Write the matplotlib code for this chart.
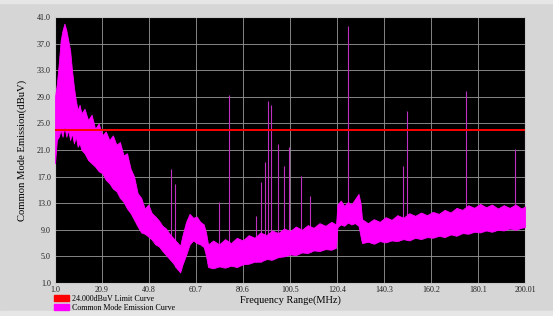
import numpy as np
import matplotlib
matplotlib.use("Agg")
import matplotlib.pyplot as plt
from matplotlib.patches import Patch, Rectangle

freq = [1, 1.8, 2.6, 3.4, 4.2, 5.0, 5.8, 6.6, 7.4, 8.2, 9.0, 9.8, 10.6, 11.4, 12.2,
        13.5, 15.0, 16.5, 18.0, 19.5, 21.0, 22.5, 24.0, 25.5, 27.0, 28.5, 30.0, 31.5,
        33.0, 34.5, 36.0, 37.5, 39.0, 40.5, 42.0, 43.5, 45.0, 46.5, 48.0, 49.5, 51.0,
        52.5, 54.0, 55.0, 56.5, 58.0, 59.5, 61.0, 62.5, 64.0, 65.0, 65.8,
        68, 70.5, 73, 75.5, 78, 80.5, 83, 85.5, 88, 90.5, 93, 95.5, 98, 100.5, 103,
        105.5, 108, 110.5, 113, 115.5, 118, 120.0, 120.6, 122, 123.5, 125, 126.5, 128,
        129.5, 130.4, 131, 133.5, 136, 138.5, 141, 143.5, 146, 148.5, 151, 153.5, 156,
        158.5, 161, 163.5, 166, 168.5, 171, 173.5, 176, 178.5, 181, 183.5, 186, 188.5,
        191, 193.5, 196, 198.5, 200]
upper = [29, 31, 34, 37.5, 39, 40, 39, 37.5, 36, 33, 30.5, 28.5, 27, 27.8, 26.5,
         27.2, 25.5, 26.3, 24.2, 25.0, 23.2, 23.8, 22.5, 23.2, 21.8, 22.2, 20.2, 20.5,
         18.2, 17.0, 14.5, 13.8, 12.2, 12.8, 11.5, 11.0, 10.4, 9.6, 9.2, 8.4, 7.8,
         7.2, 6.6, 8.2, 10.2, 11.4, 10.8, 11.0, 10.2, 9.8, 8.5, 6.8,
         7.4, 6.8, 7.6, 7.0, 7.8, 7.4, 8.2, 7.8, 8.6, 8.2, 8.9, 8.5, 9.2, 8.8, 9.5,
         9.0, 9.7, 9.3, 10.0, 9.6, 10.2, 9.8, 12.8, 13.4, 12.6, 13.2, 12.8, 13.6,
         14.4, 13.0, 10.6, 10.0, 10.6, 10.2, 10.9, 10.5, 11.2, 10.8, 11.5, 11.1, 11.6,
         11.2, 11.7, 11.4, 12.0, 11.6, 12.3, 12.0, 12.7, 12.3, 12.9, 12.4, 12.8, 12.2,
         12.7, 12.3, 12.8, 12.2, 12.5]
lower = [19, 22.5, 23, 24, 23, 24.5, 23, 24, 22.5, 23.5, 22, 23, 21.5, 22, 21,
         20.5, 19.5, 19, 18.5, 17.8, 17.5, 16.5, 16, 15.2, 14.8, 13.8, 13.2, 12.2,
         11.5, 10.5, 9.5, 8.6, 8.4, 8.0, 7.5, 6.8, 6.5, 5.8, 5.2, 4.6, 4.0,
         3.2, 2.6, 3.8, 5.2, 6.8, 7.4, 7.0, 6.8, 6.4, 5.0, 3.4,
         3.2, 3.5, 3.3, 3.6, 3.4, 3.8, 3.9, 4.2, 4.2, 4.6, 4.5, 4.9, 5.0, 5.3, 5.2,
         5.6, 5.5, 5.9, 5.8, 6.1, 6.0, 6.3, 9.4, 9.8, 9.6, 10.1, 9.8, 10.0,
         9.6, 8.0, 7.0, 7.2, 6.9, 7.3, 7.1, 7.4, 7.3, 7.6, 7.4, 7.8, 7.6,
         7.9, 7.8, 8.1, 7.9, 8.3, 8.1, 8.5, 8.4, 8.7, 8.6, 8.9, 8.7, 9.0,
         8.9, 9.2, 9.0, 9.3, 9.4]

# narrow-band spikes
spike_freq = [50.0, 52.0, 70.4, 74.7, 86.0, 88.2, 89.9, 91.2, 92.3, 95.3, 98.1, 100.1,
              105.2, 109.0, 124.9, 148.3, 149.9, 174.9, 195.8, 199.8]
spike_top = [18.1, 15.9, 13.2, 29.3, 11.0, 16.2, 19.2, 28.4, 27.7, 21.9, 18.6, 21.5,
             17.1, 14.1, 39.6, 18.6, 26.9, 29.8, 21.2, 25.2]

limit = 24.0
xticks = [1.0, 20.9, 40.8, 60.7, 80.6, 100.5, 120.4, 140.3, 160.2, 180.1, 200.01]
xticklabels = ["1.0", "20.9", "40.8", "60.7", "80.6", "100.5", "120.4", "140.3",
               "160.2", "180.1", "200.01"]
yticks = [1.0, 5.0, 9.0, 13.0, 17.0, 21.0, 25.0, 29.0, 33.0, 37.0, 41.0]


def main():
    plt.rcParams['font.family'] = ['Liberation Serif', 'DejaVu Serif']
    fig = plt.figure(figsize=(5.53, 3.16), dpi=100, facecolor='#d6d6d6')
    # lighter strips at the window edges
    fig.patches.append(Rectangle((0, 0), 1, 5 / 316, transform=fig.transFigure,
                                 color='#e6e6e6', zorder=0))
    fig.patches.append(Rectangle((0, 1 - 3 / 316), 1, 3 / 316, transform=fig.transFigure,
                                 color='#e6e6e6', zorder=0))
    ax = fig.add_axes([55 / 553, (316 - 283) / 316, 470 / 553, 266 / 316])
    ax.set_facecolor('black')

    ax.set_xlim(1.0, 200.01)
    ax.set_ylim(1.0, 41.0)
    ax.set_xticks(xticks)
    ax.set_xticklabels(xticklabels)
    ax.set_yticks(yticks)
    ax.set_yticklabels(["%.1f" % v for v in yticks])
    ax.tick_params(length=0, labelsize=5.8, pad=3, colors='#202020')
    ax.tick_params(axis='x', pad=2.5)
    ax.grid(color='#9a9a9a', linewidth=0.6)
    ax.set_axisbelow(True)
    for s in ax.spines.values():
        s.set_color('#c8c8c8')

    base = np.interp(spike_freq, freq, lower)
    ax.vlines(spike_freq, base, spike_top, color='#c030c0', linewidth=0.8, zorder=3)
    ax.fill_between(freq, lower, upper, color='#ff00ff', linewidth=0.6,
                    edgecolor='#ff00ff', zorder=4)
    ax.axhline(limit, color='#ff0000', linewidth=1.4, zorder=5)

    ax.set_ylabel('Common Mode Emission(dBuV)', fontsize=7.7, labelpad=7)
    ax.set_xlabel('Frequency Range(MHz)', fontsize=7.5, labelpad=1)

    handles = [Patch(color='#ff0000', label='24.000dBuV Limit Curve'),
               Patch(color='#ff00ff', label='Common Mode Emission Curve')]
    fig.legend(handles=handles, loc='lower left', bbox_to_anchor=(54 / 553, 4 / 316),
               frameon=False, fontsize=5.8, handlelength=1.9, handleheight=0.8,
               labelspacing=0.15, handletextpad=0.3, borderpad=0, borderaxespad=0)

    fig.savefig('out.png', dpi=100, facecolor=fig.get_facecolor())


if __name__ == "__main__":
    main()
